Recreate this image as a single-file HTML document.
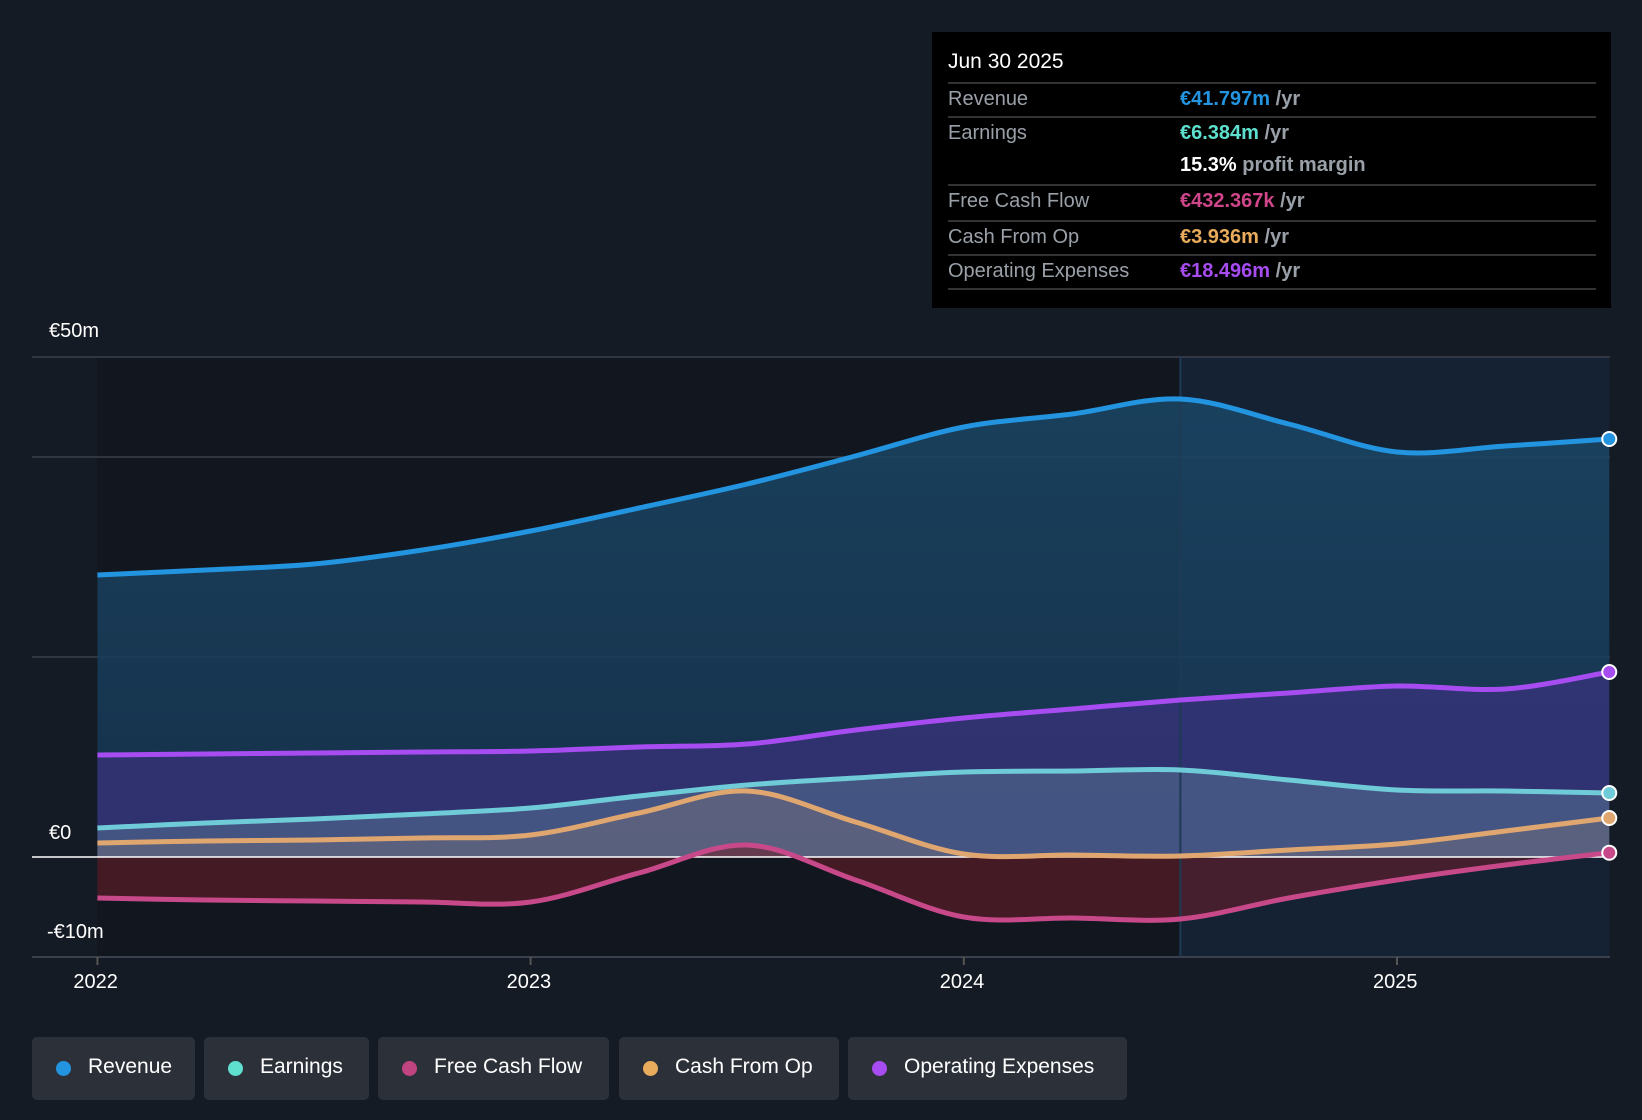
<!DOCTYPE html>
<html><head><meta charset="utf-8"><style>
body{margin:0;background:#151b24;width:1642px;height:1120px;overflow:hidden;font-family:"Liberation Sans",sans-serif;}
#tt{position:absolute;left:932px;top:32px;width:679px;height:276px;background:#000;}
#tt .d{position:absolute;left:16px;top:18px;color:#fff;font-size:21px;}
.row{position:absolute;left:16px;width:648px;border-top:2px solid #333;height:32px;font-size:20px;}
.row .l{position:absolute;left:0;top:4px;color:#9aa0a8;}
.row .v{position:absolute;left:232px;top:4px;color:#9aa0a8;font-weight:bold;}
.leg{position:absolute;top:1037px;height:63px;background:#2c3039;border-radius:5px;color:#fff;font-size:21px;}
.leg span.dot{position:absolute;left:24px;top:24px;width:15px;height:15px;border-radius:50%;}
.leg span.t{position:absolute;left:56px;top:18px;}
.ax{position:absolute;color:#fff;font-size:20px;}
</style></head><body>
<svg id="chart" width="1642" height="1120" style="position:absolute;left:0;top:0">
<defs>
<linearGradient id="gr" x1="0" x2="0" y1="0" y2="1"><stop offset="0" stop-color="#1a4766" stop-opacity="0.85"/><stop offset="1" stop-color="#173552" stop-opacity="0.85"/></linearGradient>
</defs>
<g id="g"></g></svg>
<div class="ax" style="left:49px;top:320px">€50m</div>
<div class="ax" style="left:49px;top:822px">€0</div>
<div class="ax" style="left:47px;top:921px">-€10m</div>
<div id="xl"></div>
<div id="tt">
<div class="d">Jun 30 2025</div>
<div class="row" style="top:50px"><span class="l">Revenue</span><span class="v"><span style="color:#2394e0">€41.797m</span> /yr</span></div>
<div class="row" style="top:84px;border-top:2px solid #333"><span class="l">Earnings</span><span class="v"><span style="color:#5fe0cf">€6.384m</span> /yr</span></div>
<div class="row" style="top:118px;border-top:none"><span class="v"><span style="color:#fff">15.3%</span> profit margin</span></div>
<div class="row" style="top:152px"><span class="l">Free Cash Flow</span><span class="v"><span style="color:#d0468a">€432.367k</span> /yr</span></div>
<div class="row" style="top:188px"><span class="l">Cash From Op</span><span class="v"><span style="color:#e8ac5c">€3.936m</span> /yr</span></div>
<div class="row" style="top:222px"><span class="l">Operating Expenses</span><span class="v"><span style="color:#a64cf0">€18.496m</span> /yr</span></div>
<div class="row" style="top:256px;height:0"></div>
</div>
<div class="leg" style="left:32px;width:163px"><span class="dot" style="background:#2394e0"></span><span class="t">Revenue</span></div>
<div class="leg" style="left:204px;width:165px"><span class="dot" style="background:#5fe0cf"></span><span class="t">Earnings</span></div>
<div class="leg" style="left:378px;width:231px"><span class="dot" style="background:#c0447f"></span><span class="t">Free Cash Flow</span></div>
<div class="leg" style="left:619px;width:220px"><span class="dot" style="background:#e8ac5c"></span><span class="t">Cash From Op</span></div>
<div class="leg" style="left:848px;width:279px"><span class="dot" style="background:#a64cf0"></span><span class="t">Operating Expenses</span></div>
<script>
const dates=[2022,2022.25,2022.5,2022.75,2023,2023.25,2023.5,2023.75,2024,2024.25,2024.5,2024.75,2025,2025.25,2025.49];
const revenue=[28.2,28.7,29.3,30.7,32.6,34.9,37.3,40.1,43.0,44.3,45.8,43.3,40.5,41.1,41.8];
const opex=[10.2,10.3,10.4,10.5,10.6,11.0,11.3,12.7,13.9,14.8,15.7,16.4,17.1,16.8,18.5];
const earnings=[2.9,3.4,3.8,4.3,4.9,6.1,7.2,7.9,8.5,8.6,8.7,7.7,6.7,6.6,6.4];
const cfo=[1.4,1.6,1.7,1.9,2.2,4.4,6.6,3.5,0.3,0.2,0.1,0.7,1.3,2.6,3.9];
const fcf=[-4.1,-4.3,-4.4,-4.5,-4.5,-1.6,1.2,-2.3,-6.0,-6.1,-6.2,-4.1,-2.3,-0.8,0.43];
const years=[2022,2023,2024,2025];
const X=d=>97.4+(d-2022)*433.2;
const Y=v=>857-v*10;
const NS='http://www.w3.org/2000/svg';
const g=document.getElementById('g');
function el(t,a,name){const e=document.createElementNS(NS,t);for(const k in a)e.setAttribute(k,a[k]);


g.appendChild(e);return e;}
function curve(vals){const p=dates.map((d,i)=>[X(d),Y(vals[i])]);let s='M'+p[0][0]+','+p[0][1];
for(let i=0;i<p.length-1;i++){const p0=p[Math.max(0,i-1)],p1=p[i],p2=p[i+1],p3=p[Math.min(p.length-1,i+2)];
const c1=[p1[0]+(p2[0]-p0[0])/6,p1[1]+(p2[1]-p0[1])/6],c2=[p2[0]-(p3[0]-p1[0])/6,p2[1]-(p3[1]-p1[1])/6];
s+=` C${c1[0]},${c1[1]} ${c2[0]},${c2[1]} ${p2[0]},${p2[1]}`;}return s;}
const x0=X(dates[0]),x1=X(dates[dates.length-1]),xd=X(2024.5);
el('rect',{x:x0,y:Y(50),width:xd-x0,height:Y(-10)-Y(50),fill:'#12171f'},'past-region');
el('rect',{x:xd,y:Y(50),width:x1-xd,height:Y(-10)-Y(50),fill:'#142234'},'forecast-region');
[50,40,20].forEach(v=>el('line',{x1:32,x2:1610,y1:Y(v),y2:Y(v),stroke:'#3a414c','stroke-width':1.5},'gridline'));
el('line',{x1:32,x2:1610,y1:Y(-10),y2:Y(-10),stroke:'#3a414c','stroke-width':2},'x-axis-line');
const area=(vals,fill,name)=>el('path',{d:curve(vals)+` L${x1},${Y(0)} L${x0},${Y(0)} Z`,fill:fill},name);
area(revenue,'url(#gr)','revenue-area');
area(opex,'rgba(70,50,140,0.55)','opex-area');
area(earnings,'rgba(90,120,150,0.5)','earnings-area');
area(cfo,'rgba(130,120,120,0.35)','cfo-area');
area(fcf,'rgba(110,30,40,0.55)','fcf-area');
el('line',{x1:xd,x2:xd,y1:Y(50),y2:Y(-10),stroke:'#1e3a55','stroke-width':2},'divider');
el('line',{x1:32,x2:1610,y1:Y(0),y2:Y(0),stroke:'#fff','stroke-width':1.5},'zero-line');
const series=[[revenue,'#2394e0','revenue-line'],[opex,'#a64cf0','opex-line'],[earnings,'#6fcbd8','earnings-line'],[cfo,'#e0a670','cfo-line'],[fcf,'#c8498a','fcf-line']];
series.forEach(s=>{el('path',{d:curve(s[0]),fill:'none',stroke:s[1],'stroke-width':5},s[2]);
el('circle',{cx:x1,cy:Y(s[0][s[0].length-1]),r:7,fill:s[1],stroke:'#fff','stroke-width':2},s[2].replace('line','end-dot'));});
const xl=document.getElementById('xl');
years.forEach(y=>{el('line',{x1:X(y),x2:X(y),y1:Y(-10),y2:Y(-10)+8,stroke:'#555','stroke-width':2},'x-tick');
const d=document.createElement('div');d.className='ax';d.textContent=y;d.style.left=(X(y)-24)+'px';d.style.top='971px';


xl.appendChild(d);});
</script>
</body></html>
